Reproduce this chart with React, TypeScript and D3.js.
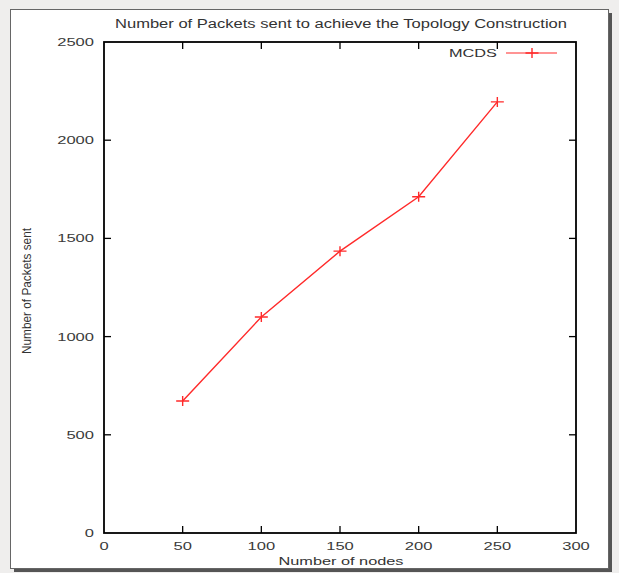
import React, { useEffect, useRef } from 'react';
import * as d3 from 'd3';

// data
const nodes = [50, 100, 150, 200, 250];
const packets = [672, 1100, 1435, 1712, 2195];
const xTicks = [0, 50, 100, 150, 200, 250, 300];
const yTicks = [0, 500, 1000, 1500, 2000, 2500];
const seriesName = 'MCDS';

const W = 619, H = 573;
const plot = { left: 104, right: 576, top: 42, bottom: 533 };
const font = '"Liberation Sans", Arial, Helvetica, sans-serif';
const digitW = 9.2;

const App = () => {
  const ref = useRef<SVGSVGElement>(null);

  useEffect(() => {
    const svg = d3.select(ref.current);
    svg.selectAll('*').remove();

    const x = d3.scaleLinear().domain([0, 300]).range([plot.left, plot.right]);
    const y = d3.scaleLinear().domain([0, 2500]).range([plot.bottom, plot.top]);

    // page background + frame
    svg.append('rect').attr('width', W).attr('height', H).attr('fill', '#efeeed');
    svg.append('rect').attr('x', 14).attr('y', 13).attr('width', 598).attr('height', 559).attr('fill', '#555');
    svg.append('rect').attr('x', 10.5).attr('y', 9.5).attr('width', 598).attr('height', 559)
      .attr('fill', '#fff').attr('stroke', '#666').attr('stroke-width', 1);

    // title
    svg.append('text')
      .attr('x', 341).attr('y', 28)
      .attr('text-anchor', 'middle')
      .attr('font-family', font).attr('font-size', 12)
      .attr('fill', '#333')
      .attr('textLength', 452).attr('lengthAdjust', 'spacingAndGlyphs')
      .text('Number of Packets sent to achieve the Topology Construction');

    const g = svg.append('g');
    const tl = 7;

    // ticks on all four sides, pointing inward
    xTicks.slice(1, -1).forEach(t => {
      g.append('line').attr('x1', x(t)).attr('x2', x(t)).attr('y1', plot.bottom).attr('y2', plot.bottom - tl)
        .attr('stroke', '#000').attr('stroke-width', 1.3);
      g.append('line').attr('x1', x(t)).attr('x2', x(t)).attr('y1', plot.top).attr('y2', plot.top + tl)
        .attr('stroke', '#000').attr('stroke-width', 1.3);
    });
    yTicks.slice(1, -1).forEach(t => {
      g.append('line').attr('x1', plot.left).attr('x2', plot.left + tl).attr('y1', y(t)).attr('y2', y(t))
        .attr('stroke', '#000').attr('stroke-width', 1.3);
      g.append('line').attr('x1', plot.right).attr('x2', plot.right - tl).attr('y1', y(t)).attr('y2', y(t))
        .attr('stroke', '#000').attr('stroke-width', 1.3);
    });

    // tick labels
    xTicks.forEach(t => {
      const s = String(t);
      g.append('text')
        .attr('x', x(t)).attr('y', 550)
        .attr('text-anchor', 'middle')
        .attr('font-family', font).attr('font-size', 11).attr('fill', '#3a3a3a')
        .attr('textLength', s.length * digitW).attr('lengthAdjust', 'spacingAndGlyphs')
        .text(s);
    });
    yTicks.forEach(t => {
      const s = String(t);
      g.append('text')
        .attr('x', 94).attr('y', y(t) + 4)
        .attr('text-anchor', 'end')
        .attr('font-family', font).attr('font-size', 11).attr('fill', '#3a3a3a')
        .attr('textLength', s.length * digitW).attr('lengthAdjust', 'spacingAndGlyphs')
        .text(s);
    });

    // axis labels
    svg.append('text')
      .attr('x', 341).attr('y', 565)
      .attr('text-anchor', 'middle')
      .attr('font-family', font).attr('font-size', 11.5).attr('fill', '#333')
      .attr('textLength', 125).attr('lengthAdjust', 'spacingAndGlyphs')
      .text('Number of nodes');
    svg.append('text')
      .attr('transform', 'translate(31,291) rotate(-90)')
      .attr('text-anchor', 'middle')
      .attr('font-family', font).attr('font-size', 12).attr('fill', '#333')
      .attr('textLength', 126).attr('lengthAdjust', 'spacingAndGlyphs')
      .text('Number of Packets sent');

    // series line
    const pts: [number, number][] = nodes.map((n, i) => [n, packets[i]]);
    const line = d3.line<[number, number]>().x(d => x(d[0])).y(d => y(d[1]));
    g.append('path').datum(pts).attr('d', line)
      .attr('fill', 'none').attr('stroke', '#ff2a2a').attr('stroke-width', 1.4);

    const plus = (cx: number, cy: number) => {
      g.append('path')
        .attr('d', `M${cx - 6.5},${cy}H${cx + 6.5}M${cx},${cy - 5}V${cy + 5}`)
        .attr('stroke', '#ff2a2a').attr('stroke-width', 1.4).attr('fill', 'none');
    };
    pts.forEach(d => plus(x(d[0]), y(d[1])));

    // legend
    g.append('text')
      .attr('x', 497).attr('y', 57)
      .attr('text-anchor', 'end')
      .attr('font-family', font).attr('font-size', 11.5).attr('fill', '#333')
      .attr('textLength', 48).attr('lengthAdjust', 'spacingAndGlyphs')
      .text(seriesName);
    g.append('line').attr('x1', 506).attr('x2', 557).attr('y1', 53).attr('y2', 53)
      .attr('stroke', '#ff2a2a').attr('stroke-width', 1.2);
    plus(532, 53);

    // frame of the plot
    g.append('rect')
      .attr('x', plot.left).attr('y', plot.top)
      .attr('width', plot.right - plot.left).attr('height', plot.bottom - plot.top)
      .attr('fill', 'none').attr('stroke', '#000').attr('stroke-width', 1.8);
  }, []);

  return (
    <svg ref={ref} width={W} height={H}
      style={{ position: 'absolute', left: 0, top: 0, display: 'block' }} />
  );
};

export default App;
